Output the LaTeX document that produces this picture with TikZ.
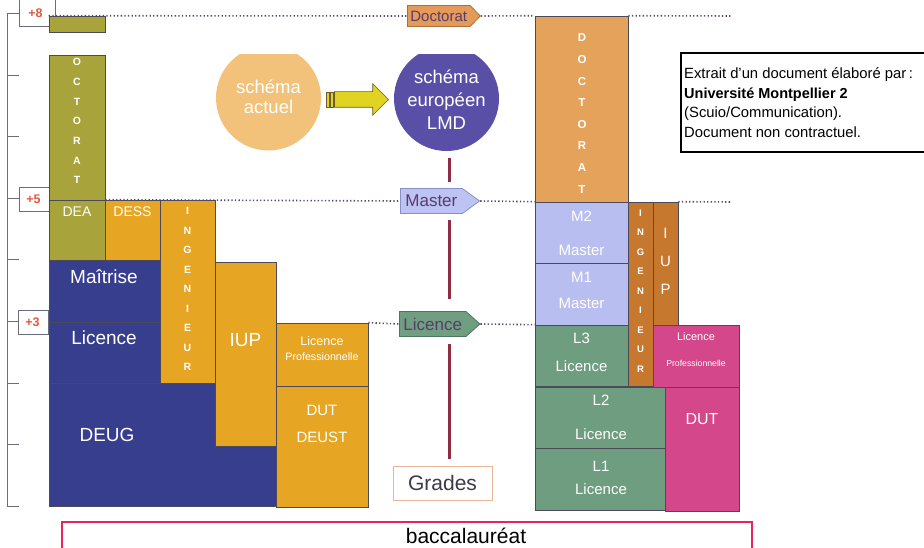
\documentclass[tikz,border=0pt]{standalone}
\usepackage{fontspec}
\setmainfont{Liberation Sans}
\setsansfont{Liberation Sans}
\usetikzlibrary{positioning,shapes.symbols,shapes.arrows}

\definecolor{vertolive}{HTML}{A8A33A}
\definecolor{orangeg}{HTML}{E6A623}
\definecolor{bleug}{HTML}{383E8E}
\definecolor{orangedoc}{HTML}{E5A25A}
\definecolor{lavande}{HTML}{B9BEF0}
\definecolor{brun}{HTML}{C7782F}
\definecolor{vertd}{HTML}{6F9D7F}
\definecolor{rose}{HTML}{D4478A}
\definecolor{cadre}{HTML}{4A4A58}
\definecolor{axe}{HTML}{6C6C7C}
\definecolor{actuel}{HTML}{F2C27A}
\definecolor{europe}{HTML}{5A4FA7}
\definecolor{bordeaux}{HTML}{8E2E45}
\definecolor{violetgris}{HTML}{5A4868}
\definecolor{rougeniv}{HTML}{E5583C}
\definecolor{rougebac}{HTML}{E8245A}
\definecolor{saumon}{HTML}{E9B596}
\definecolor{jaune}{HTML}{E0D322}
\definecolor{brunfonce}{HTML}{6E5A30}
\definecolor{tagdoc}{HTML}{E49A58}
\definecolor{tagdocb}{HTML}{A8703A}
\definecolor{tagmaster}{HTML}{BDC3F2}
\definecolor{tagmasterb}{HTML}{8A8FC4}
\definecolor{taglicence}{HTML}{6F9F80}
\definecolor{taglicenceb}{HTML}{4E7560}
\definecolor{textetiq}{HTML}{5B3A6E}
\definecolor{grisfonce}{HTML}{3A3A48}

\newcommand{\taille}[1]{\fontsize{#1}{#1}\selectfont}

\begin{document}
\begin{tikzpicture}[x=1pt,y=-1pt]

% Styles des elements
\tikzstyle{bloc}      = [rectangle, draw=cadre, line width=0.6pt, inner sep=0pt]
\tikzstyle{txt}       = [text=white, inner sep=0pt, text depth=0pt]
\tikzstyle{lettre}    = [text=white, inner sep=0pt, text depth=0pt, font=\bfseries\taille{10.5}]
\tikzstyle{niveau}    = [rectangle, draw=axe, fill=white, line width=0.7pt, inner sep=0pt]
\tikzstyle{plus}      = [text=rougeniv, inner sep=0pt, text depth=0pt, font=\bfseries\taille{12.5}]
\tikzstyle{pointille} = [draw=violetgris, line width=1.6pt, dash pattern=on 1.3pt off 2.3pt]
\tikzstyle{etiquette} = [signal, signal to=east, line width=0.8pt, text=textetiq, inner xsep=4pt, inner ysep=0pt, anchor=west, text depth=0pt]
\tikzstyle{rond}      = [circle, inner sep=0pt, minimum size=105pt]
\tikzstyle{liaison}   = [draw=bordeaux, line width=3pt]

\useasboundingbox (0,0) rectangle (924,548);

	% Axe des niveaux
	\draw[axe, line width=1pt] (7,14) -- (7,506);
	\foreach \k in {0,...,8}
		\draw[axe, line width=1pt] (7,{14+61.5*\k}) -- (19,{14+61.5*\k});
	\node[niveau, minimum width=36pt, minimum height=31pt] (n_huit) at (37,10.5) {}; % Niveau +8
	\node[plus] (t_huit) at (35.5,13) {+8};
	\node[niveau, minimum width=30pt, minimum height=24pt] (n_cinq) at (34,199) {}; % Niveau +5
	\node[plus] (t_cinq) at (33.5,199) {+5};
	\node[niveau, minimum width=30pt, minimum height=24pt] (n_trois) at (33,322) {}; % Niveau +3
	\node[plus] (t_trois) at (32.5,322) {+3};

	% Schema actuel
	\node[bloc, fill=vertolive, minimum width=56pt, minimum height=16pt]  (doc_huit)   at (77,24)      {};
	\node[bloc, fill=vertolive, minimum width=56pt, minimum height=145pt] (doctorat_g) at (77,127.5)   {};
	\node[bloc, fill=vertolive, minimum width=56pt, minimum height=60pt]  (dea)        at (77,230)     {};
	\node[bloc, fill=orangeg, minimum width=55pt, minimum height=60pt]    (dess)       at (132.5,230)  {};
	\node[bloc, fill=orangeg, minimum width=55pt, minimum height=183pt]   (inge_g)     at (187.5,291.5) {};
	\node[bloc, fill=bleug, minimum width=111pt, minimum height=62pt]     (maitrise)   at (104.5,291)  {};
	\node[bloc, fill=bleug, minimum width=111pt, minimum height=61pt]     (licence_g)  at (104.5,352.5) {};
	\node[bloc, fill=bleug, minimum width=227pt, minimum height=123pt]    (deug)       at (162.5,444.5) {};
	\node[bloc, fill=orangeg, minimum width=61pt, minimum height=184pt]   (iup_g)      at (245.5,354)  {};
	\node[bloc, fill=orangeg, minimum width=92pt, minimum height=63pt]    (lpro_g)     at (322,354.5)  {};
	\node[bloc, fill=orangeg, minimum width=92pt, minimum height=121pt]   (dut_g)      at (322,446.5)  {};

	\foreach \l [count=\i] in {O,C,T,O,R,A,T}
		\node[lettre] (docg\i) at (77,{62+19.7*(\i-1)}) {\l};
	\foreach \l [count=\i] in {I,N,G,E,N,I,E,U,R}
		\node[lettre] (ingg\i) at (187.5,{211+19.5*(\i-1)}) {\l};
	\node[txt, font=\taille{14}] (t_dea)      at (77,212)    {DEA};
	\node[txt, font=\taille{14}] (t_dess)     at (132.5,212) {DESS};
	\node[txt, font=\taille{19}] (t_maitrise) at (104,277)   {Maîtrise};
	\node[txt, font=\taille{19}] (t_licence)  at (104,338)   {Licence};
	\node[txt, font=\taille{19}] (t_deug)     at (107,435)   {DEUG};
	\node[txt, font=\taille{19}] (t_iup)      at (245.5,340) {IUP};
	\node[txt, font=\taille{12.5}] (t_lprog1) at (322,341)   {Licence};
	\node[txt, font=\taille{10.7}] (t_lprog2) [below=6.6pt of t_lprog1] {Professionnelle};
	\node[txt, font=\taille{15}] (t_dutg1)    at (322,410)   {DUT};
	\node[txt, font=\taille{15}] (t_dutg2)    [below=16.2pt of t_dutg1] {DEUST};

	% Schema europeen LMD
	\node[bloc, fill=orangedoc, minimum width=93pt, minimum height=186pt] (doctorat_d) at (581.5,109)  {};
	\node[bloc, fill=lavande, minimum width=93pt, minimum height=61pt]    (m2)         at (581.5,232.5) {};
	\node[bloc, fill=lavande, minimum width=93pt, minimum height=62pt]    (m1)         at (581.5,294)  {};
	\node[bloc, fill=brun, minimum width=25pt, minimum height=184pt]      (inge_d)     at (640.5,294)  {};
	\node[bloc, fill=brun, minimum width=25pt, minimum height=123pt]      (iup_d)      at (665.5,263.5) {};
	\node[bloc, fill=vertd, minimum width=93pt, minimum height=61pt]      (l3)         at (581.5,355.5) {};
	\node[bloc, fill=rose, minimum width=86pt, minimum height=62pt]       (lpro_d)     at (696,356)    {};
	\node[bloc, fill=vertd, minimum width=130pt, minimum height=61pt]     (l2)         at (600,417.5)  {};
	\node[bloc, fill=vertd, minimum width=130pt, minimum height=62pt]     (l1)         at (600,479)    {};
	\node[bloc, fill=rose, minimum width=74pt, minimum height=124pt]      (dut_d)      at (702,449)    {};

	\foreach \l [count=\i] in {D,O,C,T,O,R,A,T}
		\node[lettre, font=\bfseries\taille{11.5}] (docd\i) at (582,{38+21.6*(\i-1)}) {\l};
	\foreach \l [count=\i] in {I,N,G,E,N,I,E,U,R}
		\node[lettre, font=\bfseries\taille{9.5}] (ingd\i) at (640.5,{213+19.5*(\i-1)}) {\l};
	\foreach \l [count=\i] in {I,U,P}
		\node[lettre, font=\taille{15}] (iupd\i) at (665.5,{233+28*(\i-1)}) {\l};
	\node[txt, font=\taille{15}] (t_m2)  at (581.5,216) {M2};
	\node[txt, font=\taille{15}] (t_m2b) [below=23.2pt of t_m2] {Master};
	\node[txt, font=\taille{15}] (t_m1)  at (581.5,277) {M1};
	\node[txt, font=\taille{15}] (t_m1b) [below=15.2pt of t_m1] {Master};
	\node[txt, font=\taille{15}] (t_l3)  at (581.5,338) {L3};
	\node[txt, font=\taille{15}] (t_l3b) [below=17.2pt of t_l3] {Licence};
	\node[txt, font=\taille{15}] (t_l2)  at (601,400)   {L2};
	\node[txt, font=\taille{15}] (t_l2b) [below=23.2pt of t_l2] {Licence};
	\node[txt, font=\taille{15}] (t_l1)  at (601,466)   {L1};
	\node[txt, font=\taille{15}] (t_l1b) [below=12.2pt of t_l1] {Licence};
	\node[txt, font=\taille{11}] (t_lprod1) at (696,337) {Licence};
	\node[txt, font=\taille{8.7}] (t_lprod2) [below=18.9pt of t_lprod1] {Professionnelle};
	\node[txt, font=\taille{16}] (t_dutd) at (702,419) {DUT};

	% Grades
	\node[etiquette, fill=tagdoc, draw=tagdocb, minimum height=21pt, signal pointer angle=92, inner xsep=3pt, font=\taille{15}] (tag_doc) at (407,16) {Doctorat};
	\node[etiquette, fill=tagmaster, draw=tagmasterb, minimum height=25pt, signal pointer angle=72, inner xsep=5pt, font=\taille{17}] (tag_master) at (400,201) {Master};
	\node[etiquette, fill=taglicence, draw=taglicenceb, minimum height=25pt, signal pointer angle=84, font=\taille{17}] (tag_licence) at (399,324) {Licence};
	\node[draw=saumon, line width=1pt, minimum width=99pt, minimum height=34pt, inner sep=0pt, text=grisfonce, font=\taille{21}] (grades) at (442.5,483) {Grades};

	% Lignes de niveau
	\coordinate (fin_huit) at (732,16);
	\coordinate (fin_cinq) at (732,202);
	\draw[pointille] (doc_huit.north west) -- (tag_doc.west);
	\draw[pointille] (tag_doc.east) -- (doctorat_d.north west);
	\draw[pointille] (doctorat_d.north east) -- (fin_huit);
	\draw[pointille] (dea.north east) -- (tag_master.west);
	\draw[pointille] (tag_master.east) -- (m2.north west);
	\draw[pointille] (iup_d.north east) -- (fin_cinq);
	\draw[pointille] (lpro_g.north east) -- (tag_licence.west);
	\draw[pointille] (tag_licence.east) -- (l3.north west);

	% Les deux schemas
	\begin{scope}
		\clip (0,55) rectangle (924,548);
		\node[rond, fill=actuel] (actuel) at (268.5,98) {};
		\node[rond, fill=europe] (lmd) at (446.5,98.5) {};
	\end{scope}
	\node[txt, align=center, font=\fontsize{18.5}{20}\selectfont] (t_actuel) at (268.5,97) {schéma\\actuel};
	\node[txt, align=center, font=\fontsize{18.5}{23}\selectfont] (t_lmd) at (446.5,100) {schéma\\européen\\LMD};
	\node[single arrow, fill=jaune, draw=brunfonce, line width=0.6pt, minimum height=54pt, inner sep=7.5pt, single arrow head extend=8pt, anchor=tail] (fleche) at ([xshift=13pt,yshift=-1.5pt]actuel.east) {};
	\draw[fill=jaune, draw=brunfonce, line width=0.6pt] ([xshift=-8pt,yshift=-7.5pt]fleche.tail) rectangle ([xshift=-5pt,yshift=7.5pt]fleche.tail);
	\draw[fill=jaune, draw=brunfonce, line width=0.6pt] ([xshift=-4pt,yshift=-7.5pt]fleche.tail) rectangle ([xshift=-1pt,yshift=7.5pt]fleche.tail);

	% Liaison verticale
	\coordinate (ligne) at (449,0);
	\draw[liaison, shorten <=7pt, shorten >=6pt] (lmd.south -| ligne) -- (tag_master.north -| ligne);
	\draw[liaison, shorten <=6pt, shorten >=12pt] (tag_master.south -| ligne) -- (tag_licence.north -| ligne);
	\draw[liaison, shorten <=7pt, shorten >=7pt] (tag_licence.south -| ligne) -- (grades.north -| ligne);

	% Encadre
	\node[draw, line width=2.2pt, minimum width=254pt, minimum height=99pt, inner sep=0pt] (extrait) at (808,102.5) {};
	\node[anchor=base west, inner sep=0pt, font=\taille{14.8}] (ex1) at (684,79)    {Extrait d’un document élaboré par\,:};
	\node[anchor=base west, inner sep=0pt, font=\bfseries\taille{14.5}] (ex2) at (684,98.5) {Université Montpellier 2};
	\node[anchor=base west, inner sep=0pt, font=\taille{14.8}] (ex3) at (684,118)   {(Scuio/Communication).};
	\node[anchor=base west, inner sep=0pt, font=\taille{14.8}] (ex4) at (684,137.5) {Document non contractuel.};

	% Baccalaureat
	\node[draw=rougebac, line width=1.6pt, minimum width=690pt, minimum height=40pt, inner sep=0pt] (bac) at (407,542) {};
	\node[anchor=base, inner sep=0pt, font=\taille{21}] (t_bac) at (466,543.5) {baccalauréat};

\end{tikzpicture}
\end{document}
